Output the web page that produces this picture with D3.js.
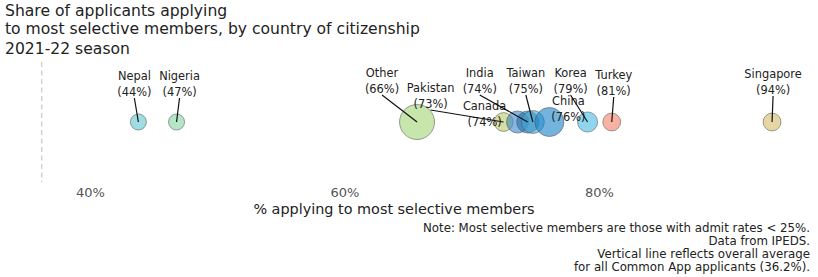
<!DOCTYPE html>
<html>
<head>
<meta charset="utf-8">
<script src="https://cdn.jsdelivr.net/npm/d3@7"></script>
<style>
  body { margin: 0; background: #fff; }
  svg { display: block; font-family: "DejaVu Sans", sans-serif; }
</style>
</head>
<body>
<svg id="chart" width="818" height="277"></svg>
<script>
// data
const countries = ['Nepal', 'Nigeria', 'Other', 'Pakistan', 'Canada', 'India', 'Taiwan', 'China', 'Korea', 'Turkey', 'Singapore'];
const shareSelective = [43.8, 46.8, 65.7, 72.5, 73.6, 74.4, 74.8, 76.1, 79.1, 81.0, 93.6];
const shareLabels = ['44%', '47%', '66%', '73%', '74%', '74%', '75%', '76%', '79%', '81%', '94%'];
const applicants = [21, 21, 100, 29, 40, 40, 43, 69, 33, 26, 26]; // relative bubble size
const tickValues = [40, 60, 80];
const overallAverage = 36.2;

// layout only: label offset from bubble (dx) and first-line baseline
const labelLayout = [
  [-4, 80], [3, 80], [-35, 77], [-73, 92], [-33, 110], [-48, 77],
  [-7, 77], [19, 105], [-17, 77], [2, 79], [1, 78]
];
const colors = ['#61c6cf', '#85d2a0', '#a0d573', '#bec966', '#3585c6', '#1f6fb8',
  '#40a8d1', '#1780c6', '#46b9e3', '#f27f68', '#d4bb67'];

const svg = d3.select('#chart');
const cy = 122;

const x = d3.scaleLinear().domain([35, 96]).range([26.4, 802.6]);
const r = d3.scaleSqrt().domain([0, d3.max(applicants)]).range([0, 17.5]);

// titles
const title = svg.append('g').attr('font-size', 15.6).attr('fill', '#222');
title.append('text').attr('x', 5).attr('y', 16).text('Share of applicants applying');
title.append('text').attr('x', 5).attr('y', 33.5).text('to most selective members, by country of citizenship');
title.append('text').attr('x', 5).attr('y', 54).text('2021-22 season');

// overall average line
svg.append('line')
  .attr('x1', x(overallAverage)).attr('x2', x(overallAverage))
  .attr('y1', 62).attr('y2', 182)
  .attr('stroke', '#cccccc').attr('stroke-width', 1.3)
  .attr('stroke-dasharray', '5,3.5');

// axis
const axis = svg.append('g')
  .attr('transform', 'translate(0,182)')
  .call(d3.axisBottom(x).tickValues(tickValues).tickSize(0).tickPadding(6).tickFormat(d => d + '%'));
axis.select('.domain').remove();
axis.selectAll('text').attr('font-size', 13).attr('fill', '#555').attr('font-family', '"DejaVu Sans", sans-serif');

svg.append('text')
  .attr('x', 394).attr('y', 214)
  .attr('text-anchor', 'middle').attr('font-size', 14.4).attr('fill', '#222')
  .text('% applying to most selective members');

const notes = [
  'Note: Most selective members are those with admit rates < 25%.',
  'Data from IPEDS.',
  'Vertical line reflects overall average',
  'for all Common App applicants (36.2%).'
];
svg.append('g').selectAll('text').data(notes).join('text')
  .attr('x', 810).attr('y', (d, i) => 231.5 + i * 13.3)
  .attr('text-anchor', 'end').attr('font-size', 11.8).attr('fill', '#222')
  .text(d => d);

const rows = countries.map((c, i) => ({
  name: c, value: shareSelective[i], label: shareLabels[i], size: applicants[i],
  color: colors[i], dx: labelLayout[i][0], by: labelLayout[i][1]
}));

// bubbles
svg.append('g').selectAll('circle').data(rows).join('circle')
  .attr('cx', d => x(d.value)).attr('cy', cy)
  .attr('r', d => r(d.size))
  .attr('fill', d => d.color).attr('fill-opacity', 0.6)
  .attr('stroke', '#555').attr('stroke-opacity', 0.55).attr('stroke-width', 1);

// labels + pointer lines (from bottom centre of label to bubble centre)
const lineG = svg.append('g');
const labelG = svg.append('g').attr('font-size', 11.4).attr('fill', '#222').attr('text-anchor', 'middle');
rows.forEach(d => {
  const bx = x(d.value);
  const lx = bx + d.dx;
  const t = labelG.append('text').attr('x', lx).attr('y', d.by);
  t.append('tspan').attr('x', lx).text(d.name);
  t.append('tspan').attr('x', lx).attr('dy', 16).text('(' + d.label + ')');
  const bb = t.node().getBBox();
  const sy = bb.y + bb.height - 1;
  if (cy <= sy + 2) return; // label sits on the bubble: no pointer
  lineG.append('line')
    .attr('x1', lx).attr('y1', sy)
    .attr('x2', bx).attr('y2', cy)
    .attr('stroke', '#111').attr('stroke-width', 1.2);
});
svg.node().appendChild(lineG.node());
</script>
</body>
</html>
